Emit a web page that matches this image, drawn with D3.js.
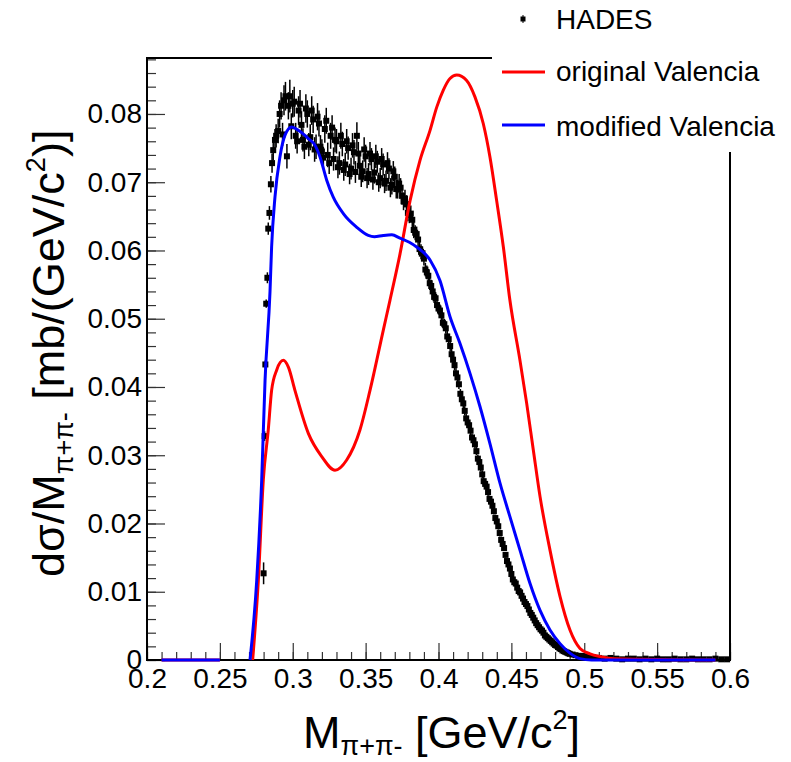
<!DOCTYPE html>
<html>
<head>
<meta charset="utf-8">
<script src="https://cdn.jsdelivr.net/npm/d3@7"></script>
<style>
  body { margin: 0; background: #fff; }
  svg { display: block; font-family: "Liberation Sans", Arial, Helvetica, sans-serif; }
</style>
</head>
<body>
<svg id="chart" width="791" height="762"></svg>
<script>
// HADES data points (mass in GeV/c2, cross section, error)
const hadesMass = [
  0.2800, 0.2807, 0.2812, 0.2818, 0.2826, 0.2832, 0.2840, 0.2850, 0.2858, 0.2866, 0.2878, 0.2886,
  0.290, 0.291, 0.292, 0.293, 0.294, 0.295, 0.296, 0.297, 0.298, 0.299,
  0.300, 0.301, 0.302, 0.303, 0.304, 0.305, 0.306, 0.307, 0.308, 0.309,
  0.310, 0.311, 0.312, 0.313, 0.314, 0.315, 0.316, 0.317, 0.318, 0.319,
  0.320, 0.321, 0.322, 0.323, 0.324, 0.325, 0.326, 0.327, 0.328, 0.329,
  0.330, 0.331, 0.332, 0.333, 0.334, 0.335, 0.336, 0.337, 0.338, 0.339,
  0.340, 0.341, 0.342, 0.343, 0.344, 0.345, 0.346, 0.347, 0.348, 0.349,
  0.350, 0.351, 0.352, 0.353, 0.354, 0.355, 0.356, 0.357, 0.358, 0.359,
  0.360, 0.361, 0.362, 0.363, 0.364, 0.365, 0.366, 0.367, 0.368, 0.369,
  0.370, 0.371,
  0.372, 0.373, 0.374, 0.375, 0.376, 0.377, 0.378, 0.379, 0.380, 0.381,
  0.382, 0.383, 0.384, 0.385, 0.386, 0.387, 0.388, 0.389, 0.390, 0.391,
  0.392, 0.393, 0.394, 0.395, 0.396, 0.397, 0.398, 0.399, 0.400, 0.401,
  0.402, 0.403, 0.404, 0.405, 0.406, 0.407, 0.408, 0.409, 0.410, 0.411,
  0.412, 0.413, 0.414, 0.415, 0.416, 0.417, 0.418, 0.419, 0.420, 0.421,
  0.422, 0.423, 0.424, 0.425, 0.426, 0.427, 0.428, 0.429, 0.430, 0.431,
  0.432, 0.433, 0.434, 0.435, 0.436, 0.437, 0.438, 0.439, 0.440, 0.441,
  0.442, 0.443, 0.444, 0.445, 0.446, 0.447, 0.448, 0.449, 0.450, 0.451,
  0.452, 0.453, 0.454, 0.455, 0.456, 0.457, 0.458, 0.459, 0.460, 0.461,
  0.462, 0.463, 0.464, 0.465, 0.466, 0.467, 0.468, 0.469, 0.470, 0.471,
  0.472, 0.473, 0.474, 0.475, 0.476, 0.477, 0.478, 0.479, 0.480, 0.481,
  0.482, 0.483, 0.484, 0.485, 0.486, 0.487, 0.488, 0.489, 0.490,
  0.492, 0.494, 0.496, 0.498, 0.500, 0.502, 0.504, 0.506, 0.508, 0.510,
  0.514, 0.518, 0.522, 0.526, 0.530, 0.534, 0.538, 0.542, 0.546, 0.550, 0.554,
  0.558, 0.562, 0.566, 0.570, 0.574, 0.578, 0.582, 0.586, 0.590, 0.594, 0.598
];
const hadesXsec = [
  0.0127, 0.0328, 0.0433, 0.0522, 0.0560, 0.0632, 0.0655, 0.0697, 0.0728, 0.0747, 0.0762, 0.0768,
  0.0775, 0.0800, 0.0812, 0.0770, 0.0820, 0.0826, 0.0738, 0.0812, 0.0826, 0.0782,
  0.0815, 0.0818, 0.0768, 0.0760, 0.0805, 0.0815, 0.0784, 0.0762, 0.0752, 0.0808,
  0.0800, 0.0755, 0.0766, 0.0805, 0.0792, 0.0748, 0.0752, 0.0796, 0.0786, 0.0752,
  0.0745, 0.0736, 0.0778, 0.0790, 0.0740, 0.0728, 0.0768, 0.0780, 0.0734, 0.0762,
  0.0760, 0.0722, 0.0728, 0.0768, 0.0756, 0.0718, 0.0726, 0.0760, 0.0750, 0.0712,
  0.0720, 0.0754, 0.0744, 0.0715, 0.0768, 0.0742, 0.0724, 0.0708, 0.0716, 0.0748,
  0.0738, 0.0706, 0.0712, 0.0742, 0.0734, 0.0704, 0.0714, 0.0738, 0.0730, 0.0700,
  0.0706, 0.0734, 0.0726, 0.0698, 0.0702, 0.0728, 0.0720, 0.0692, 0.0696, 0.0716,
  0.0708, 0.0690,
  0.0690, 0.0698, 0.0692, 0.0680, 0.0672, 0.0676, 0.0668, 0.0655, 0.0652, 0.0654,
  0.0645, 0.0630, 0.0626, 0.0624, 0.0616, 0.0602, 0.0598, 0.0596, 0.0588, 0.0572,
  0.0568, 0.0563, 0.0552, 0.0548, 0.0540, 0.0532, 0.0530, 0.0520, 0.0515, 0.0512,
  0.0505, 0.0494, 0.0492, 0.0486, 0.0474, 0.0470, 0.0460, 0.0448, 0.0440, 0.0432,
  0.0420, 0.0414, 0.0404, 0.0390, 0.0382, 0.0376, 0.0365, 0.0354, 0.0348, 0.0344,
  0.0336, 0.0326, 0.0322, 0.0316, 0.0306, 0.0295, 0.0290, 0.0282, 0.0272, 0.0262,
  0.0258, 0.0254, 0.0246, 0.0236, 0.0232, 0.0226, 0.0218, 0.0208, 0.0203, 0.0196,
  0.0186, 0.0176, 0.0170, 0.0164, 0.0154, 0.0145, 0.0140, 0.0134, 0.0126, 0.0118,
  0.0114, 0.0112, 0.0106, 0.0101, 0.0099, 0.0094, 0.0090, 0.0085, 0.0082, 0.0079,
  0.0074, 0.0069, 0.0066, 0.0062, 0.0058, 0.0054, 0.0051, 0.0048, 0.0045, 0.0043,
  0.0040, 0.0036, 0.0034, 0.0032, 0.0030, 0.0028, 0.0026, 0.0024, 0.0022, 0.0021,
  0.0019, 0.0017, 0.0016, 0.0014, 0.0013, 0.0012, 0.0011, 0.0010, 0.0009,
  0.0008, 0.0007, 0.0006, 0.0006, 0.0005, 0.0005, 0.0004, 0.0004, 0.0003, 0.0003,
  0.0002, 0.0003, 0.0002, 0.0001, 0.0002, 0.0002, 0.0001, 0.0002, 0.0001, 0.0002, 0.0001,
  0.0001, 0.0002, 0.0001, 0.0001, 0.0002, 0.0001, 0.0001, 0.0001, 0.0002, 0.0001, 0.0001
];
const hadesErr = [
  0.0016, 0.0007, 0.0006, 0.0006, 0.0008, 0.0009, 0.0010, 0.0012, 0.0014, 0.0015, 0.0016, 0.0017,
  0.0018, 0.0020, 0.0020, 0.0017, 0.0022, 0.0021, 0.0018, 0.0020, 0.0024, 0.0019,
  0.0020, 0.0022, 0.0019, 0.0018, 0.0021, 0.0020, 0.0020, 0.0017, 0.0018, 0.0021,
  0.0020, 0.0017, 0.0019, 0.0021, 0.0020, 0.0018, 0.0018, 0.0020, 0.0019, 0.0017,
  0.0018, 0.0016, 0.0020, 0.0019, 0.0018, 0.0016, 0.0019, 0.0018, 0.0017, 0.0018,
  0.0018, 0.0016, 0.0017, 0.0019, 0.0018, 0.0016, 0.0017, 0.0018, 0.0017, 0.0015,
  0.0016, 0.0018, 0.0018, 0.0016, 0.0020, 0.0017, 0.0017, 0.0015, 0.0016, 0.0018,
  0.0017, 0.0015, 0.0016, 0.0017, 0.0016, 0.0015, 0.0016, 0.0017, 0.0016, 0.0014,
  0.0015, 0.0016, 0.0016, 0.0014, 0.0015, 0.0016, 0.0015, 0.0014, 0.0014, 0.0015,
  0.0015, 0.0014,
  0.0014, 0.0014, 0.0014, 0.0013, 0.0013, 0.0013, 0.0013, 0.0012, 0.0012, 0.0012,
  0.0012, 0.0012, 0.0011, 0.0011, 0.0011, 0.0011, 0.0011, 0.0010, 0.0010, 0.0010,
  0.0010, 0.0010, 0.0010, 0.0009, 0.0009, 0.0009, 0.0009, 0.0009, 0.0009, 0.0009,
  0.0009, 0.0008, 0.0008, 0.0008, 0.0008, 0.0008, 0.0008, 0.0008, 0.0008, 0.0008,
  0.0008, 0.0007, 0.0007, 0.0007, 0.0007, 0.0007, 0.0007, 0.0007, 0.0007, 0.0007,
  0.0007, 0.0006, 0.0006, 0.0006, 0.0006, 0.0006, 0.0006, 0.0006, 0.0006, 0.0006,
  0.0006, 0.0006, 0.0006, 0.0005, 0.0005, 0.0005, 0.0005, 0.0005, 0.0005, 0.0005,
  0.0005, 0.0005, 0.0005, 0.0004, 0.0004, 0.0004, 0.0004, 0.0004, 0.0004, 0.0004,
  0.0004, 0.0004, 0.0004, 0.0004, 0.0003, 0.0003, 0.0003, 0.0003, 0.0003, 0.0003,
  0.0003, 0.0003, 0.0003, 0.0003, 0.0003, 0.0003, 0.0003, 0.0002, 0.0002, 0.0002,
  0.0002, 0.0002, 0.0002, 0.0002, 0.0002, 0.0002, 0.0002, 0.0002, 0.0002, 0.0002,
  0.0002, 0.0002, 0.0002, 0.0002, 0.0002, 0.0002, 0.0002, 0.0002, 0.0002,
  0.0002, 0.0002, 0.0002, 0.0002, 0.0002, 0.0002, 0.0002, 0.0002, 0.0002, 0.0002,
  0.0001, 0.0001, 0.0001, 0.0001, 0.0001, 0.0001, 0.0001, 0.0001, 0.0001, 0.0001, 0.0001,
  0.0001, 0.0001, 0.0001, 0.0001, 0.0001, 0.0001, 0.0001, 0.0001, 0.0001, 0.0001, 0.0001
];

// original Valencia model (null = not drawn)
const origMass = [
  0.210, 0.250, 0.260, 0.2725, 0.2764, 0.2798, 0.2832, 0.2855, 0.2890, 0.2935, 0.2970,
  0.3015, 0.3107, 0.3199, 0.3290, 0.3370, 0.3461, 0.3530, 0.3621, 0.3667, 0.3736,
  0.3805, 0.3873, 0.3942, 0.3988, 0.4033, 0.4079, 0.4125, 0.4193, 0.4250, 0.4307,
  0.4353, 0.4399, 0.4445, 0.4490, 0.4559, 0.4605, 0.4651, 0.4697, 0.4765, 0.4834,
  0.4902, 0.4971, 0.5040, 0.5110, 0.5200, 0.5900
];
const origXsec = [
  0, 0, null, 0, 0.0117, 0.0264, 0.0337, 0.0395, 0.0425, 0.0439, 0.0429,
  0.0395, 0.0332, 0.0298, 0.0278, 0.0293, 0.0337, 0.0395, 0.0483, 0.0527, 0.0595,
  0.0673, 0.0732, 0.0776, 0.0810, 0.0835, 0.0852, 0.0857, 0.0849, 0.0825, 0.0786,
  0.0737, 0.0673, 0.0605, 0.0527, 0.0439, 0.0376, 0.0307, 0.0239, 0.0161, 0.0093,
  0.0044, 0.0017, 0.0009, 0.0005, 0.0002, 0
];

// modified Valencia model
const modMass = [
  0.210, 0.250, 0.260, 0.2707, 0.2753, 0.2787, 0.2810, 0.2844, 0.2855, 0.2878, 0.2912,
  0.2947, 0.2993, 0.3038, 0.3107, 0.3153, 0.3187, 0.3233, 0.3278, 0.3347, 0.3439,
  0.3518, 0.3560, 0.3621, 0.3680, 0.3736, 0.3800, 0.3850, 0.3942, 0.4010, 0.4079,
  0.4147, 0.4216, 0.4285, 0.4353, 0.4422, 0.4490, 0.4559, 0.4628, 0.4696, 0.4765,
  0.4834, 0.4902, 0.4970, 0.5050, 0.5900
];
const modXsec = [
  0, 0, null, 0, 0.0117, 0.0264, 0.0410, 0.0540, 0.0605, 0.0678, 0.0737,
  0.0769, 0.0781, 0.0776, 0.0764, 0.0754, 0.0737, 0.0703, 0.0678, 0.0654, 0.0634,
  0.0622, 0.0620, 0.0622, 0.0623, 0.0618, 0.0612, 0.0605, 0.0586, 0.0556, 0.0503,
  0.0464, 0.0420, 0.0371, 0.0317, 0.0259, 0.0210, 0.0161, 0.0112, 0.0073, 0.0044,
  0.0024, 0.0010, 0.0002, 0, 0
];

const xMajor = [0.2, 0.25, 0.3, 0.35, 0.4, 0.45, 0.5, 0.55, 0.6];
const yMajor = [0, 0.01, 0.02, 0.03, 0.04, 0.05, 0.06, 0.07, 0.08];
const legendLabels = ["HADES", "original Valencia", "modified Valencia"];

// frame geometry
const svg = d3.select("#chart");
const frameL = 147, frameT = 58, frameR = 730, frameB = 660;

const x = d3.scaleLinear().domain([0.2, 0.6]).range([frameL, frameR]);
const y = d3.scaleLinear().domain([0, 0.0882]).range([frameB, frameT]);

// minor ticks
svg.append("g")
  .attr("transform", `translate(0,${frameB})`)
  .call(d3.axisBottom(x).tickValues(x.ticks(40)).tickSize(-8).tickFormat(""))
  .call(g => g.select(".domain").remove());
svg.append("g")
  .attr("transform", `translate(${frameL},0)`)
  .call(d3.axisLeft(y).tickValues(y.ticks(44)).tickSize(-9).tickFormat(""))
  .call(g => g.select(".domain").remove());

// major ticks and labels
const xAxis = svg.append("g")
  .attr("transform", `translate(0,${frameB})`)
  .call(d3.axisBottom(x).tickValues(xMajor).tickSize(-17).tickPadding(8)
    .tickFormat(d => String(+d.toFixed(2))));
const yAxis = svg.append("g")
  .attr("transform", `translate(${frameL},0)`)
  .call(d3.axisLeft(y).tickValues(yMajor).tickSize(-18).tickPadding(5)
    .tickFormat(d => String(+d.toFixed(2))));

[xAxis, yAxis].forEach(g => {
  g.select(".domain").remove();
  g.selectAll("text").attr("font-size", 28).attr("fill", "#000")
    .attr("font-family", "Liberation Sans, Arial, sans-serif");
});
svg.selectAll(".tick line").attr("stroke", "#333").attr("stroke-width", 1.2);

// frame
svg.append("rect")
  .attr("x", frameL).attr("y", frameT)
  .attr("width", frameR - frameL).attr("height", frameB - frameT)
  .attr("fill", "none").attr("stroke", "#000").attr("stroke-width", 2);

// HADES points with error bars
const hades = hadesMass.map((m, i) => ({ m, v: hadesXsec[i], e: hadesErr[i] || 0 }));
const pts = svg.append("g");
pts.selectAll("line")
  .data(hades)
  .enter()
  .append("line")
    .attr("x1", d => x(d.m)).attr("x2", d => x(d.m))
    .attr("y1", d => y(d.v - d.e)).attr("y2", d => y(d.v + d.e))
    .attr("stroke", "#000").attr("stroke-width", 1.5);
pts.selectAll("rect")
  .data(hades)
  .enter()
  .append("rect")
    .attr("x", d => x(d.m) - 3).attr("y", d => y(d.v) - 3)
    .attr("width", 6).attr("height", 6)
    .attr("fill", "#000");

// model curves
const line = d3.line()
  .defined(d => d.v !== null)
  .x(d => x(d.m))
  .y(d => y(d.v))
  .curve(d3.curveMonotoneX);

const curves = [
  { mass: origMass, xsec: origXsec, color: "#ff0000" },
  { mass: modMass, xsec: modXsec, color: "#0000ff" }
];
curves.forEach(c => {
  svg.append("path")
    .datum(c.mass.map((m, i) => ({ m, v: c.xsec[i] })))
    .attr("d", line)
    .attr("fill", "none")
    .attr("stroke", c.color)
    .attr("stroke-width", 3);
});

// legend (white box covering the frame corner)
const leg = svg.append("g");
leg.append("rect")
  .attr("x", 492).attr("y", 0).attr("width", 299).attr("height", 152)
  .attr("fill", "#fff");
leg.append("line")
  .attr("x1", 523).attr("x2", 523).attr("y1", 15).attr("y2", 23)
  .attr("stroke", "#000").attr("stroke-width", 1);
leg.append("rect")
  .attr("x", 520.5).attr("y", 16.5).attr("width", 5).attr("height", 5).attr("fill", "#000");
leg.append("line")
  .attr("x1", 502).attr("x2", 545).attr("y1", 72).attr("y2", 72)
  .attr("stroke", "#ff0000").attr("stroke-width", 3);
leg.append("line")
  .attr("x1", 502).attr("x2", 545).attr("y1", 125).attr("y2", 125)
  .attr("stroke", "#0000ff").attr("stroke-width", 3);
leg.selectAll("text.lab")
  .data(legendLabels)
  .enter()
  .append("text")
    .attr("class", "lab")
    .attr("x", 556)
    .attr("y", (d, i) => [29, 81, 136][i])
    .attr("font-size", 28)
    .text(d => d);

// axis titles
const xTitle = svg.append("text")
  .attr("x", 303).attr("y", 748)
  .attr("font-size", 45);
xTitle.append("tspan").text("M");
xTitle.append("tspan").attr("font-size", 27).attr("dy", 7).text("π+π-");
xTitle.append("tspan").attr("dy", -7).text(" [GeV/c");
xTitle.append("tspan").attr("font-size", 27).attr("dy", -19).text("2");
xTitle.append("tspan").attr("dy", 19).text("]");

const yTitle = svg.append("text")
  .attr("transform", "translate(64,577) rotate(-90)")
  .attr("font-size", 45);
yTitle.append("tspan").text("dσ/M");
yTitle.append("tspan").attr("font-size", 27).attr("dy", 9).text("π+π-");
yTitle.append("tspan").attr("dy", -9).text(" [mb/(GeV/c");
yTitle.append("tspan").attr("font-size", 27).attr("dy", -19).text("2");
yTitle.append("tspan").attr("dy", 19).text(")]");
</script>
</body>
</html>
